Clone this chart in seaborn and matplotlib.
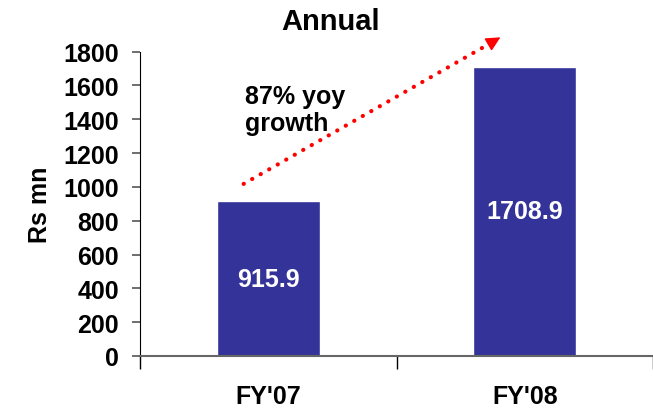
import pandas as pd
import matplotlib.pyplot as plt
import seaborn as sns

# Annual figures (Rs mn)
years = ["FY'07", "FY'08"]
revenue = [915.9, 1708.9]
growth_label = "87% yoy\ngrowth"

df = pd.DataFrame({'year': years, 'revenue': revenue})

sns.set_style('white')
plt.rcParams['font.family'] = ['Liberation Sans', 'DejaVu Sans']
plt.rcParams['font.weight'] = 'bold'
plt.rcParams['text.color'] = 'black'
plt.rcParams['axes.labelcolor'] = 'black'
plt.rcParams['xtick.color'] = 'black'
plt.rcParams['ytick.color'] = 'black'

fig = plt.figure(figsize=(6.53, 4.10), dpi=100)
ax = fig.add_axes([0.2144, 0.1293, 0.7856, 0.7422])

sns.barplot(data=df, x='year', y='revenue', color='#333399', width=0.4,
            saturation=1, ax=ax)

ax.set_xlim(-0.5, 1.473)
ax.set_ylim(0, 1800)
ax.set_yticks(range(0, 1801, 200))
ax.set_xticks([0, 1])
ax.set_xticklabels(years, fontsize=18, fontweight='bold')
ax.tick_params(axis='x', length=0, pad=20)
ax.tick_params(axis='y', labelsize=18, length=6, width=1.2, color='#555555', left=True, pad=9)
for lab in ax.get_yticklabels():
    lab.set_fontweight('bold')

# minor ticks between the categories
ax.set_xticks([-0.5, 0.5, 1.5], minor=True)
ax.tick_params(axis='x', which='minor', length=9, width=1, color='black', bottom=True)

for s in ['top', 'right']:
    ax.spines[s].set_visible(False)
ax.spines['left'].set_color('black')
ax.spines['bottom'].set_color('#666666')
ax.spines['bottom'].set_linewidth(1.5)

ax.set_xlabel('')
ax.set_ylabel('Rs mn', fontsize=18, fontweight='bold', labelpad=8)

# value labels inside bars
ax.text(0, 456, f"{revenue[0]:.1f}", color='white', ha='center', va='center',
        fontsize=18, fontweight='bold')
ax.text(1, 858, f"{revenue[1]:.1f}", color='white', ha='center', va='center',
        fontsize=18, fontweight='bold')

# growth arrow: dotted shaft plus solid head
ax.annotate('', xy=(0.86, 1845), xytext=(-0.096, 1018),
            arrowprops=dict(arrowstyle='-', color='red', lw=3,
                            linestyle=(0, (0.05, 2.3)), capstyle='round',
                            shrinkA=0, shrinkB=0),
            annotation_clip=False)
ax.annotate('', xy=(0.905, 1885), xytext=(0.86, 1845),
            arrowprops=dict(arrowstyle='-|>', color='red', lw=1,
                            mutation_scale=22, shrinkA=0, shrinkB=0),
            annotation_clip=False)
ax.text(-0.09, 1610, growth_label, fontsize=18, fontweight='bold',
        ha='left', va='top', linespacing=1.15)

fig.text(331 / 653, 1 - 22 / 410, 'Annual', ha='center', va='center',
         fontsize=21, fontweight='bold')

plt.savefig('out.png', dpi=100)
